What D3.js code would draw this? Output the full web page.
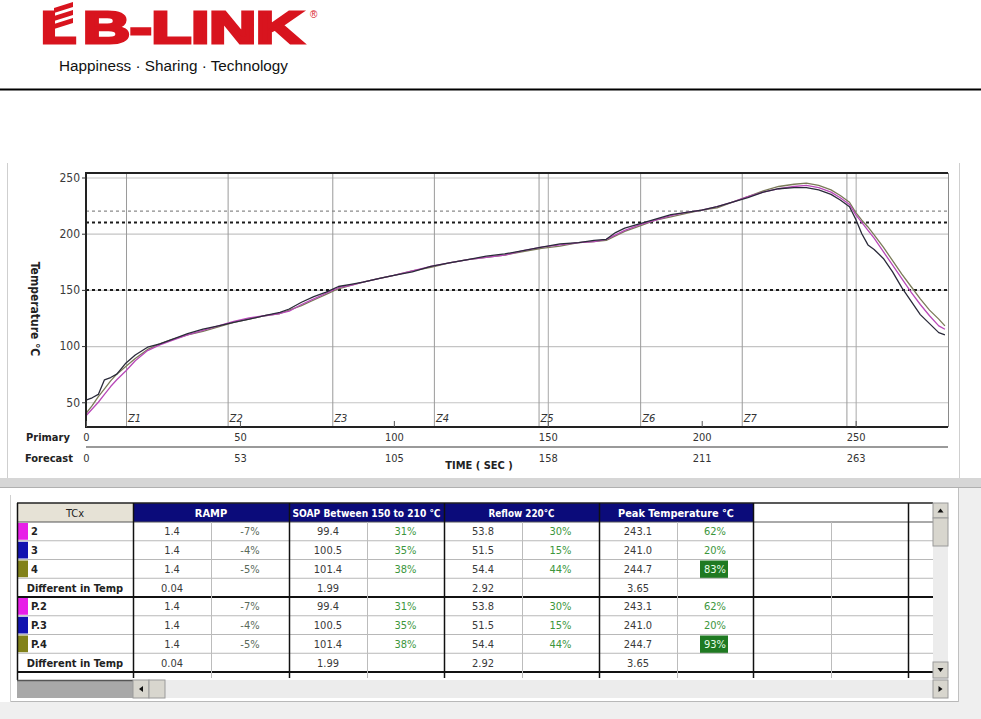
<!DOCTYPE html>
<html>
<head>
<meta charset="utf-8">
<script src="https://cdn.jsdelivr.net/npm/d3@7/dist/d3.min.js"></script>
<style>
  html, body { margin: 0; padding: 0; background: #fff; }
  svg { display: block; }
  text { font-family: "Liberation Sans", Arial, sans-serif; }
  .cond { font-family: "Liberation Sans Narrow", "DejaVu Sans Condensed", "Liberation Sans", sans-serif; }
</style>
</head>
<body>
<svg id="chart" width="981" height="719"></svg>
<script>
// ---------------- DATA ----------------
const timeSec = [0,2,4,6,8,10,13,16,20,24,28,33,38,43,48,53,58,63,66,70,74,78,82,86,90,95,100,106,112,118,124,130,136,142,148,154,160,165,169,172,175,180,185,190,195,200,205,210,215,220,225,230,234,238,242,245,248,250,252,254,256,259,262,265,268,271,274,277,279];
const tc2 = [38,44,50,57,64,70,78,87,96,101,105,110,114,118,122,125,127,129,131,137,142,147,152,154,157,160,163,167,171,174,177,179,181,185,188,190,192,193,195,199,203,208,212,216,219,221,224,228,233,237,240,242,243,241,237,232,226,217,210,203,196,184,172,160,148,137,127,118,115];
const tc3 = [52,54,57,70,72,75,85,92,99,102,106,111,115,118,121,124,127,130,133,139,144,148,153,155,157,160,163,166,171,174,177,180,182,185,188,191,192,194,195,201,205,209,213,217,219,221,224,228,232,237,240,241,241,239,235,230,224,213,200,190,186,178,166,152,140,128,120,112,110];
const tc4 = [40,47,55,62,69,75,82,89,97,102,106,110,113,117,121,124,127,129,132,136,141,146,151,154,157,160,163,167,170,174,177,179,181,184,187,189,192,193,194,198,202,207,212,215,218,221,223,228,233,238,242,244,245,243,239,234,228,219,212,206,199,188,176,164,153,142,132,124,118];
const seriesNames = ["2","3","4"];
const seriesColors = ["#b848b8","#2a2a3a","#7a7a58"];

const yTicks = [50,100,150,200,250];
const primaryTicks = [0,50,100,150,200,250];
const forecastLabels = ["0","53","105","158","211","263"];
const zoneBounds = [13,46,80,113,147,180,213,247];
const zoneLabels = ["Z1","Z2","Z3","Z4","Z5","Z6","Z7"];
const gridSec = [150,250];
const refLevels = [220,210,150];

// table
const tcNames = ["2","3","4","Different in Temp","P.2","P.3","P.4","Different in Temp"];
const tcSwatch = ["#e81ee8","#1212b0","#82821a",null,"#e81ee8","#1212b0","#82821a",null];
const groupHeaders = ["RAMP","SOAP Between 150 to 210 \u2103","Reflow 220\u2103","Peak Temperature \u2103"];
const rampValue  = ["1.4","1.4","1.4","0.04","1.4","1.4","1.4","0.04"];
const rampPct    = ["-7%","-4%","-5%","","-7%","-4%","-5%",""];
const soakValue  = ["99.4","100.5","101.4","1.99","99.4","100.5","101.4","1.99"];
const soakPct    = ["31%","35%","38%","","31%","35%","38%",""];
const reflowValue= ["53.8","51.5","54.4","2.92","53.8","51.5","54.4","2.92"];
const reflowPct  = ["30%","15%","44%","","30%","15%","44%",""];
const peakValue  = ["243.1","241.0","244.7","3.65","243.1","241.0","244.7","3.65"];
const peakPct    = ["62%","20%","83%","","62%","20%","93%",""];
const peakHighlight = [false,false,true,false,false,false,true,false];

// ---------------- DRAW ----------------
const svg = d3.select("#chart");

// ---- header / logo ----
const red = "#d8141e";
const logo = svg.append("g");
logo.append("text").attr("x",41).attr("y",43).attr("font-size",44).attr("font-weight","bold")
  .attr("fill",red).attr("stroke",red).attr("stroke-width",3)
  .attr("textLength",35).attr("lengthAdjust","spacingAndGlyphs").text("L");
[0,1,2].forEach(i=>{
  const yb = 29 - i*8;
  logo.append("path")
    .attr("d",`M54,${yb} L73,${yb-6} L73,${yb-11} L54,${yb-5} Z`)
    .attr("fill",red);
});
logo.append("text").attr("x",83).attr("y",43).attr("font-size",44).attr("font-weight","bold")
  .attr("fill",red).attr("stroke",red).attr("stroke-width",3)
  .attr("textLength",220).attr("lengthAdjust","spacingAndGlyphs").text("B-LINK");
logo.append("text").attr("x",310).attr("y",18).attr("font-size",10).attr("fill",red).text("\u00AE");
svg.append("text").attr("x",59).attr("y",71).attr("font-size",14).attr("fill","#111")
  .attr("textLength",229).attr("lengthAdjust","spacingAndGlyphs")
  .text("Happiness \u00B7 Sharing \u00B7 Technology");
svg.append("line").attr("x1",0).attr("x2",981).attr("y1",89.5).attr("y2",89.5)
  .attr("stroke","#000").attr("stroke-width",2);

// ---- chart panel frame ----
svg.append("line").attr("x1",7.5).attr("x2",7.5).attr("y1",163).attr("y2",478).attr("stroke","#cfcfcf");
svg.append("line").attr("x1",959.5).attr("x2",959.5).attr("y1",163).attr("y2",478).attr("stroke","#cfcfcf");

const x = d3.scaleLinear().domain([0,280]).range([86,948]);
const y = d3.scaleLinear().domain([28,254]).range([427,173]);
const L = x.range()[0], R = x.range()[1], T = y.range()[1], B = y.range()[0];

const plot = svg.append("g");
plot.selectAll(".hg").data(yTicks).join("line")
  .attr("x1",L).attr("x2",R).attr("y1",d=>y(d)+0.5).attr("y2",d=>y(d)+0.5)
  .attr("stroke","#c4c4c4").attr("stroke-width",1.2);
plot.selectAll(".vg").data(gridSec).join("line")
  .attr("x1",d=>x(d)+0.5).attr("x2",d=>x(d)+0.5).attr("y1",T).attr("y2",B)
  .attr("stroke","#a8a8a8");
plot.selectAll(".zl").data(zoneBounds).join("line")
  .attr("x1",d=>x(d)+0.5).attr("x2",d=>x(d)+0.5).attr("y1",T).attr("y2",B)
  .attr("stroke","#9a9a9a");
plot.selectAll(".zt").data(zoneLabels).join("text")
  .attr("class","cond")
  .attr("x",(d,i)=>x(zoneBounds[i])+2).attr("y",B-5)
  .attr("font-size",11).attr("font-style","italic").attr("fill","#333").text(d=>d);
plot.selectAll(".rl").data(refLevels).join("line")
  .attr("x1",L).attr("x2",R).attr("y1",d=>y(d)).attr("y2",d=>y(d))
  .attr("stroke",(d,i)=>i===0?"#8a8a8a":"#1a1a1a")
  .attr("stroke-width",(d,i)=>i===0?1.2:2)
  .attr("stroke-dasharray","3,3");

const line = d3.line().x(d=>x(d[0])).y(d=>y(d[1]));
[tc4,tc2,tc3].forEach((arr,k)=>{
  const idx = [2,0,1][k];
  plot.append("path")
    .attr("d", line(timeSec.map((t,i)=>[t,arr[i]])))
    .attr("fill","none").attr("stroke",seriesColors[idx]).attr("stroke-width",1.3)
    .attr("stroke-linejoin","round");
});

plot.append("line").attr("x1",L).attr("x2",R).attr("y1",T).attr("y2",T).attr("stroke","#222").attr("stroke-width",2);
plot.append("line").attr("x1",L).attr("x2",L).attr("y1",T-1).attr("y2",B+1).attr("stroke","#222").attr("stroke-width",2);
plot.append("line").attr("x1",L).attr("x2",R).attr("y1",B).attr("y2",B).attr("stroke","#222").attr("stroke-width",2);
plot.append("line").attr("x1",R+0.5).attr("x2",R+0.5).attr("y1",T).attr("y2",B).attr("stroke","#8a8a8a");

plot.selectAll(".bt").data(primaryTicks).join("line")
  .attr("x1",d=>x(d)+0.5).attr("x2",d=>x(d)+0.5).attr("y1",B-6).attr("y2",B)
  .attr("stroke","#555");

const yAxis = svg.append("g").attr("transform",`translate(${L},0)`)
  .call(d3.axisLeft(y).tickValues(yTicks).tickSize(4).tickPadding(2));
yAxis.select(".domain").remove();
yAxis.selectAll("line").attr("stroke","#333");
yAxis.selectAll("text").attr("class","cond").attr("font-size",12).attr("fill","#3a3a3a");

svg.append("text").attr("transform","translate(31,309) rotate(90)")
  .attr("text-anchor","middle").attr("font-size",12).attr("font-weight","bold").attr("fill","#222")
  .attr("class","cond").text("Temperature \u2103");

const primAxis = svg.append("g").attr("transform",`translate(0,${B+3})`)
  .call(d3.axisBottom(x).tickValues(primaryTicks).tickSize(0).tickPadding(3).tickFormat(d3.format("d")));
primAxis.select(".domain").remove();
primAxis.selectAll("text").attr("class","cond").attr("font-size",11).attr("fill","#333");

const foreAxis = svg.append("g").attr("transform",`translate(0,451)`)
  .call(d3.axisBottom(x).tickValues(primaryTicks).tickSize(0).tickPadding(3).tickFormat((d,i)=>forecastLabels[i]));
foreAxis.select(".domain").remove();
foreAxis.selectAll("text").attr("class","cond").attr("font-size",11).attr("fill","#333");

svg.append("line").attr("x1",L).attr("x2",R).attr("y1",447).attr("y2",447).attr("stroke","#9a9a9a").attr("stroke-width",2);
svg.append("text").attr("x",26).attr("y",441).attr("font-size",11).attr("font-weight","bold").attr("fill","#222").attr("class","cond").text("Primary");
svg.append("text").attr("x",25).attr("y",462).attr("font-size",11).attr("font-weight","bold").attr("fill","#222").attr("class","cond").text("Forecast");
svg.append("text").attr("x",479).attr("y",469).attr("text-anchor","middle").attr("font-size",11).attr("font-weight","bold").attr("fill","#222").attr("class","cond").text("TIME ( SEC )");

svg.append("rect").attr("x",0).attr("y",478).attr("width",981).attr("height",9).attr("fill","#d6d6d6");
svg.append("line").attr("x1",0).attr("x2",981).attr("y1",487.5).attr("y2",487.5).attr("stroke","#b0b0b0");

// ---- table panel ----
svg.append("rect").attr("x",958).attr("y",488).attr("width",23).attr("height",231).attr("fill","#efefef");
svg.append("line").attr("x1",958.5).attr("x2",958.5).attr("y1",488).attr("y2",702).attr("stroke","#c0c0c0");
svg.append("rect").attr("x",0).attr("y",702).attr("width",981).attr("height",17).attr("fill","#efefef");
svg.append("line").attr("x1",10).attr("x2",958).attr("y1",701.5).attr("y2",701.5).attr("stroke","#b8b8b8");
svg.append("line").attr("x1",10.5).attr("x2",10.5).attr("y1",495).attr("y2",702).attr("stroke","#d0d0d0");

const colEdges = [17,133,211,289,367,444,522,599,677,753,831,908];
const headTop = 503, headBot = 522;
const rowY = d3.scaleLinear().domain([0,8]).range([522,672]);
const tbl = svg.append("g");

tbl.append("rect").attr("x",colEdges[0]).attr("y",headTop).attr("width",colEdges[1]-colEdges[0]).attr("height",headBot-headTop).attr("fill","#e6e2d6");
groupHeaders.forEach((h,i)=>{
  const x0 = colEdges[1+2*i], x1 = colEdges[3+2*i];
  tbl.append("rect").attr("x",x0).attr("y",headTop).attr("width",x1-x0).attr("height",headBot-headTop).attr("fill","#0b0b7a");
  const t = tbl.append("text").attr("x",(x0+x1)/2).attr("y",headTop+14).attr("text-anchor","middle")
    .attr("font-size",11).attr("font-weight","bold").attr("fill","#fff").attr("class","cond").text(h);
  const maxW = [34,148,66,116][i];
  if (t.node().getComputedTextLength() > maxW) t.attr("textLength",maxW).attr("lengthAdjust","spacingAndGlyphs");
});
tbl.append("text").attr("x",(colEdges[0]+colEdges[1])/2).attr("y",headTop+14).attr("text-anchor","middle")
  .attr("font-size",11).attr("fill","#222").attr("class","cond").text("TCx");

const cols = [rampValue,rampPct,soakValue,soakPct,reflowValue,reflowPct,peakValue,peakPct];
tcNames.forEach((name,r)=>{
  const y0 = rowY(r), y1 = rowY(r+1), yc = (y0+y1)/2 + 4;
  if (tcSwatch[r]) {
    tbl.append("rect").attr("x",18).attr("y",y0+1).attr("width",10).attr("height",y1-y0-2).attr("fill",tcSwatch[r]);
    tbl.append("text").attr("x",31).attr("y",yc).attr("font-size",11).attr("font-weight","bold").attr("fill","#222").attr("class","cond").text(name);
  } else {
    tbl.append("text").attr("x",(colEdges[0]+colEdges[1])/2).attr("y",yc).attr("text-anchor","middle")
      .attr("font-size",11).attr("font-weight","bold").attr("fill","#222").attr("class","cond").text(name);
  }
  cols.forEach((c,j)=>{
    const x0 = colEdges[1+j], x1 = colEdges[2+j];
    const isPct = j%2===1;
    const hl = j===7 && peakHighlight[r];
    if (hl) tbl.append("rect").attr("x",(x0+x1)/2-15).attr("y",y0+1).attr("width",28).attr("height",y1-y0-1).attr("fill","#1f7a22");
    tbl.append("text").attr("x",(x0+x1)/2).attr("y",yc).attr("text-anchor","middle")
      .attr("font-size",11).attr("class","cond")
      .attr("fill", hl ? "#e8ffe8" : (isPct ? (j===1 ? "#5a6a5a" : "#3c963c") : "#3a3a3a"))
      .text(c[r]);
  });
});

d3.range(1,9).forEach(r=>{
  const thick = (r===4 || r===8);
  tbl.append("line").attr("x1",colEdges[0]).attr("x2",933).attr("y1",rowY(r)).attr("y2",rowY(r))
    .attr("stroke",thick?"#111":"#b8b8b8").attr("stroke-width",thick?2:1);
});
tbl.append("line").attr("x1",colEdges[0]).attr("x2",933).attr("y1",headTop).attr("y2",headTop).attr("stroke","#222").attr("stroke-width",1.5);
tbl.append("line").attr("x1",colEdges[0]).attr("x2",933).attr("y1",headBot).attr("y2",headBot).attr("stroke","#555").attr("stroke-width",1);
colEdges.forEach((cx,i)=>{
  const major = (i%2===1) || i===0;
  tbl.append("line").attr("x1",cx+0.5).attr("x2",cx+0.5).attr("y1",major?headTop:headBot).attr("y2",i===0?680:678)
    .attr("stroke",major?"#111":"#bcbcbc").attr("stroke-width",major?1.5:1);
});

// scrollbars
const sb = svg.append("g");
sb.append("rect").attr("x",933).attr("y",503).attr("width",15).attr("height",177).attr("fill","#ececec");
function button(x0,y0,w,h,dir){
  sb.append("rect").attr("x",x0).attr("y",y0).attr("width",w).attr("height",h).attr("fill","#d8d6ce").attr("stroke","#9a9a9a");
  const cx = x0+w/2, cy = y0+h/2;
  let p;
  if (dir==="up") p=`M${cx-3},${cy+2} L${cx+3},${cy+2} L${cx},${cy-2} Z`;
  if (dir==="down") p=`M${cx-3},${cy-2} L${cx+3},${cy-2} L${cx},${cy+2} Z`;
  if (dir==="left") p=`M${cx+2},${cy-3} L${cx+2},${cy+3} L${cx-2},${cy} Z`;
  if (dir==="right") p=`M${cx-2},${cy-3} L${cx-2},${cy+3} L${cx+2},${cy} Z`;
  if (p) sb.append("path").attr("d",p).attr("fill","#111");
}
button(933,503,15,15,"up");
button(933,518,15,28,null);
button(933,662,15,16,"down");
sb.append("rect").attr("x",17).attr("y",680).attr("width",116).attr("height",18).attr("fill","#a8a8a8");
sb.append("line").attr("x1",17).attr("x2",133).attr("y1",680.5).attr("y2",680.5).attr("stroke","#555").attr("stroke-width",1.5);
sb.append("rect").attr("x",133).attr("y",680).attr("width",800).attr("height",18).attr("fill","#ececec");
button(133,680,16,18,"left");
button(149,680,16,18,null);
button(933,680,15,18,"right");
</script>
</body>
</html>
